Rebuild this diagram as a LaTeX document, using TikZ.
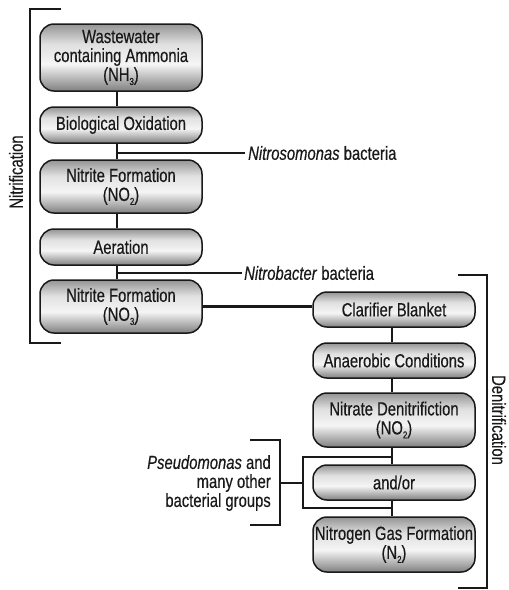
\documentclass[tikz,border=0pt]{standalone}
\usepackage{fontspec}
\setmainfont{Liberation Sans}[FakeStretch=0.78,FakeBold=0.4]
\newcommand{\sbs}[1]{\raisebox{-4pt}{\fontsize{10}{10}\selectfont #1}}
\pgfdeclareverticalshading{boxshade}{100bp}{color(0bp)=(black!50); color(25bp)=(black!50); color(45bp)=(white!96!black); color(60bp)=(black!12); color(75bp)=(black!42); color(100bp)=(black!42)}
\definecolor{ink}{RGB}{25,25,25}
\begin{document}
\begin{tikzpicture}[x=1pt,y=-1pt,
  every node/.style={text=ink, font=\fontsize{19}{19}\selectfont},
  procbox/.style={draw=ink, line width=1.5pt, rounded corners=14pt, shading=boxshade,
    minimum width=162pt, inner sep=0pt, align=center},
  conn/.style={draw=ink, line width=2.4pt},
  brack/.style={draw=ink, line width=2.7pt},
  lbl/.style={inner sep=0pt, anchor=west}]
\useasboundingbox (0,0) rectangle (509,590);
% left column
\node[procbox, minimum height=67pt] (b1) at (121,57.5) {Wastewater\\containing Ammonia\\(NH\sbs{3})};
\node[procbox, minimum height=36pt] (b2) at (121,125) {Biological Oxidation};
\node[procbox, minimum height=53pt] (b3) at (121,186.5) {Nitrite Formation\\(NO\sbs{2})};
\node[procbox, minimum height=36pt] (b4) at (121,247) {Aeration};
\node[procbox, minimum height=53pt] (b5) at (121,306.5) {Nitrite Formation\\(NO\sbs{3})};
% right column
\node[procbox, minimum height=35pt] (c1) at (394,309.5) {Clarifier Blanket};
\node[procbox, minimum height=35pt] (c2) at (394,360.5) {Anaerobic Conditions};
\node[procbox, minimum height=54pt] (c3) at (394,420) {Nitrate Denitrifiction\\(NO\sbs{2})};
\node[procbox, minimum height=35pt] (c4) at (394,482.5) {and/or};
\node[procbox, minimum height=55pt] (c5) at (394,544.5) {Nitrogen Gas Formation\\(N\sbs{2})};
% labels
\node[lbl] (nsm) at (248,153) {\textit{Nitrosomonas} bacteria};
\node[lbl] (nbc) at (244,273) {\textit{Nitrobacter} bacteria};
\node[inner sep=0pt, anchor=east, align=right] (pse) at (271,483) {\textit{Pseudomonas} and\\many other\\bacterial groups};
\node[inner sep=0pt, rotate=90] (nitr) at (16,172) {Nitrification};
\node[inner sep=0pt, rotate=-90] (denitr) at (499,420) {Denitrification};
% connectors left
\draw[conn] ([xshift=-4pt]b1.south) -- ([xshift=-4pt]b2.north);
\draw[conn] ([xshift=-4pt]b2.south) -- ([xshift=-4pt]b3.north);
\draw[conn] ([xshift=-4pt]b3.south) -- ([xshift=-4pt]b4.north);
\draw[conn] ([xshift=-4pt]b4.south) -- ([xshift=-4pt]b5.north);
\coordinate (j1) at (117,153);
\coordinate (j2) at (117,273);
\draw[conn] (j1) -- ([xshift=-3pt]nsm.west);
\draw[conn] (j2) -- ([xshift=-2pt]nbc.west);
\draw[conn] (b5.east) -- (b5.east -| c1.west);
% connectors right
\draw[conn] ([xshift=-2pt]c1.south) -- ([xshift=-2pt]c2.north);
\draw[conn] ([xshift=-2pt]c2.south) -- ([xshift=-2pt]c3.north);
\draw[conn] ([xshift=-2pt]c3.south) -- ([xshift=-2pt]c4.north);
\draw[conn] ([xshift=-2pt]c4.south) -- ([xshift=-2pt]c5.north);
\coordinate (k1) at (392,457);
\coordinate (k2) at (392,508);
\coordinate (k3) at (303,483);
\draw[conn] (k1) -- (k1 -| k3) -- (k2 -| k3) -- (k2);
\coordinate (tb) at (280,483);
\draw[conn] (k3) -- (tb);
% brackets
\draw[brack] (250,440) -- (280,440) -- (280,525) -- (250,525);
\draw[brack] (61,9) -- (30,9) -- (30,343) -- (61,343);
\draw[brack] (458,275) -- (487,275) -- (487,588) -- (458,588);
\end{tikzpicture}
\end{document}
